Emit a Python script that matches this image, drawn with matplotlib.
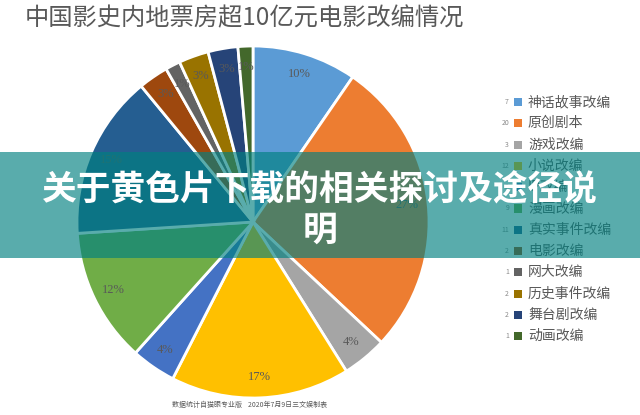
import matplotlib
matplotlib.use("Agg")
from matplotlib import pyplot as plt
from matplotlib.patches import Rectangle

plt.rcParams['font.family'] = ['Noto Sans CJK SC', 'DejaVu Sans']

categories = ["神话故事改编", "原创剧本", "游戏改编", "小说改编", "IP改编", "漫画改编",
              "真实事件改编", "电影改编", "网大改编", "历史事件改编", "舞台剧改编", "动画改编"]
counts = [7, 20, 3, 12, 3, 9, 11, 2, 1, 2, 2, 1]
pct_labels = ["10%", "27%", "4%", "17%", "4%", "12%", "15%", "3%", "1%", "3%", "3%", "1%"]
colors = ["#5B9BD5", "#ED7D31", "#A5A5A5", "#FFC000", "#4472C4", "#70AD47",
          "#255E91", "#9E480E", "#636363", "#997300", "#264478", "#43682B"]

W, H = 640, 415
fig = plt.figure(figsize=(W / 100, H / 100), dpi=100)

# pie axes: centre (253, 222) px, radius 176 px
cx, cy, r = 253, 222, 176
ax = fig.add_axes([(cx - r) / W, (H - cy - r) / H, 2 * r / W, 2 * r / H])
wedges, texts = ax.pie(counts, colors=colors, startangle=90, counterclock=False,
                       labels=pct_labels, labeldistance=0.88,
                       wedgeprops=dict(edgecolor="white", linewidth=2),
                       textprops=dict(color="#595959", fontsize=9, family="Liberation Serif",
                                      ha="center", va="center"))
ax.set_xlim(-1, 1)
ax.set_ylim(-1, 1)
ax.set_aspect("equal")

fig.text(25 / W, 1 - 18 / H, "中国影史内地票房超10亿元电影改编情况",
         fontsize=17.5, color="#595959", ha="left", va="center")

# legend
y0, step = 102, 21.3
for i, (name, n, c) in enumerate(zip(categories, counts, colors)):
    y = y0 + i * step
    fig.text(509 / W, 1 - y / H, str(n), fontsize=5, color="#8a8a8a", ha="right", va="center")
    fig.patches.append(Rectangle((514 / W, 1 - (y + 4) / H), 8 / W, 8 / H,
                                 facecolor=c, edgecolor="none", transform=fig.transFigure))
    fig.text(528 / W, 1 - y / H, name, fontsize=10, color="#595959", ha="left", va="center")

fig.text(250 / W, 1 - 405 / H, "数据统计自猫眼专业版    2020年7月9日三文娱制表",
         fontsize=5, color="#595959", ha="center", va="center")

# overlay banner
fig.patches.append(Rectangle((0, 1 - 258 / H), 1, 106 / H, facecolor="#008080", alpha=0.65,
                             edgecolor="none", transform=fig.transFigure, zorder=5))
fig.text(0.5, 1 - 190 / H, "关于黄色片下载的相关探讨及途径说", fontsize=25, fontweight="heavy",
         color="white", ha="center", va="center", zorder=6)
fig.text(0.5, 1 - 230 / H, "明", fontsize=25, fontweight="heavy",
         color="white", ha="center", va="center", zorder=6)

fig.savefig("out.png", dpi=100)
